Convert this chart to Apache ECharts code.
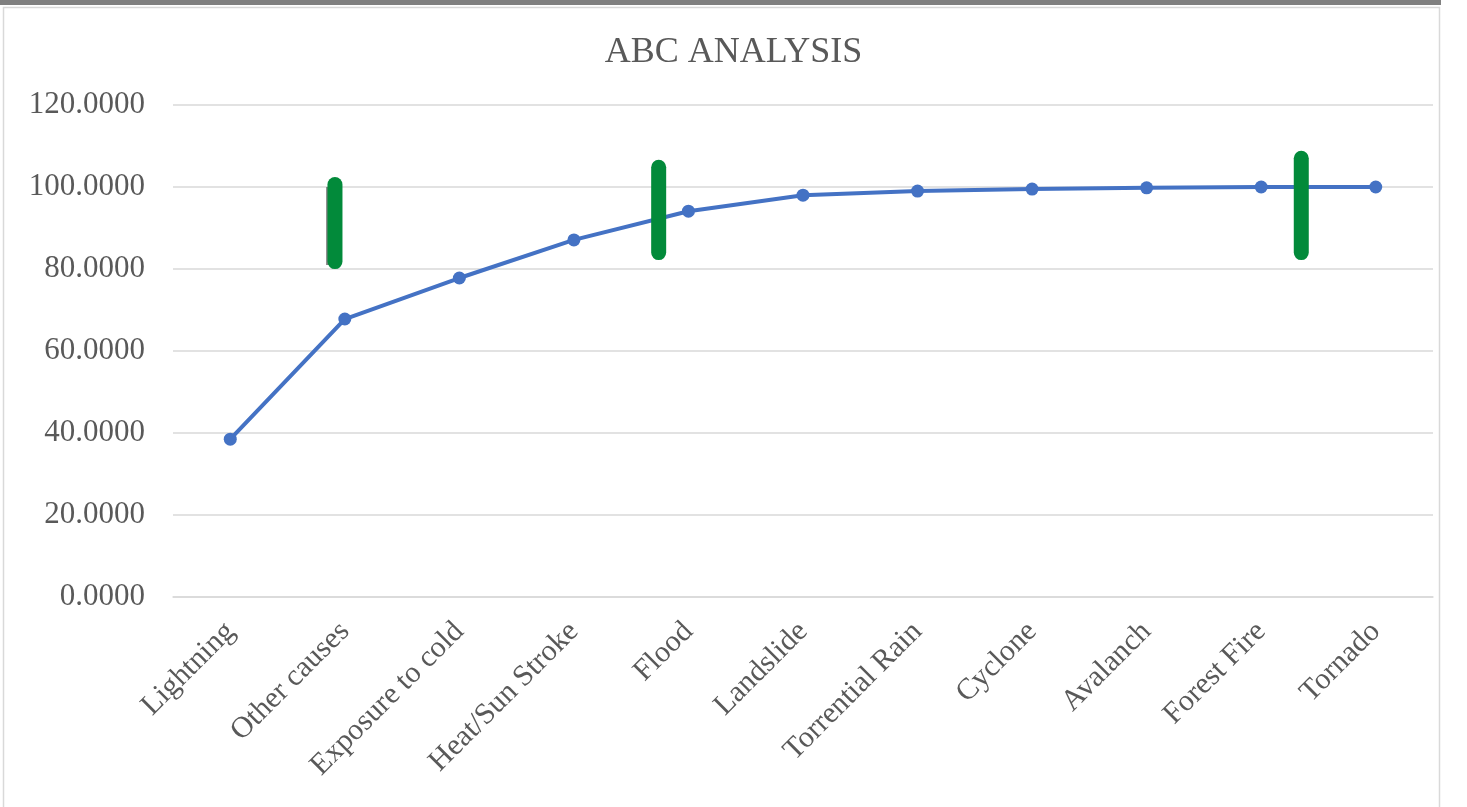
<!DOCTYPE html>
<html><head><meta charset="utf-8">
<script src="https://cdn.jsdelivr.net/npm/echarts@6/dist/echarts.min.js"></script>
<style>html,body{margin:0;padding:0;background:#fff}#c{width:1467px;height:807px}</style>
</head><body><div id="c"></div>
<script>
const categories = ['Lightning','Other causes','Exposure to cold','Heat/Sun Stroke','Flood','Landslide','Torrential Rain','Cyclone','Avalanch','Forest Fire','Tornado'];
const cumulative = [38.5, 67.8, 77.8, 87.1, 94.1, 98.0, 99.0, 99.5, 99.8, 100.0, 100.0];
const yTicks = [0, 20, 40, 60, 80, 100, 120];
// green marker bars: [category position, top value, bottom value]
const marker1 = [[0.914, 100.6], [0.914, 81.8]];
const marker2 = [[3.74, 104.8], [3.74, 84.0]];
const marker3 = [[9.35, 107.0], [9.35, 84.0]];
const shadow1 = [[0.85, 100.0], [0.85, 81.0]];

const font = '"Liberation Serif", "Times New Roman", serif';
const chart = echarts.init(document.getElementById('c'));
const greenLine = (d) => ({
  type: 'line', xAxisIndex: 1, data: d, symbol: 'none', silent: true, z: 5,
  lineStyle: { color: '#028a3a', width: 15, cap: 'round' }
});
chart.setOption({
  animation: false,
  title: { text: 'ABC ANALYSIS', left: 'center', top: 30,
    textStyle: { fontFamily: font, fontSize: 36, fontWeight: 'normal', color: '#595959' } },
  graphic: [
    { type: 'rect', shape: { x: 0, y: 0, width: 1441, height: 5 }, style: { fill: '#808080' }, z: 10 },
    { type: 'rect', shape: { x: 3.5, y: 7.5, width: 1436, height: 810 }, style: { fill: 'none', stroke: '#d9d9d9', lineWidth: 1.5 }, z: 10 }
  ],
  grid: { left: 173, right: 34, top: 105, bottom: 210, containLabel: false },
  xAxis: [
    { type: 'category', data: categories, boundaryGap: true,
      axisLine: { show: true, lineStyle: { color: '#d9d9d9', width: 1.5 } },
      axisTick: { show: false },
      axisLabel: { rotate: 45, interval: 0, margin: 30, fontFamily: font, fontSize: 30, color: '#595959' } },
    { type: 'value', min: -0.5, max: 10.5, show: false }
  ],
  yAxis: { type: 'value', min: 0, max: 120, interval: 20,
    axisLine: { show: false }, axisTick: { show: false },
    splitLine: { lineStyle: { color: '#d9d9d9', width: 1.5 } },
    axisLabel: { margin: 28, fontFamily: font, fontSize: 31, color: '#595959',
      formatter: v => v.toFixed(4) } },
  series: [
    { type: 'line', data: cumulative, symbol: 'circle', symbolSize: 13, z: 3,
      lineStyle: { color: '#4472C4', width: 4 }, itemStyle: { color: '#4472C4' } },
    { type: 'line', xAxisIndex: 1, data: shadow1, symbol: 'none', silent: true, z: 4,
      lineStyle: { color: '#7f7f7f', width: 3 } },
    greenLine(marker1), greenLine(marker2), greenLine(marker3)
  ]
});
</script></body></html>
